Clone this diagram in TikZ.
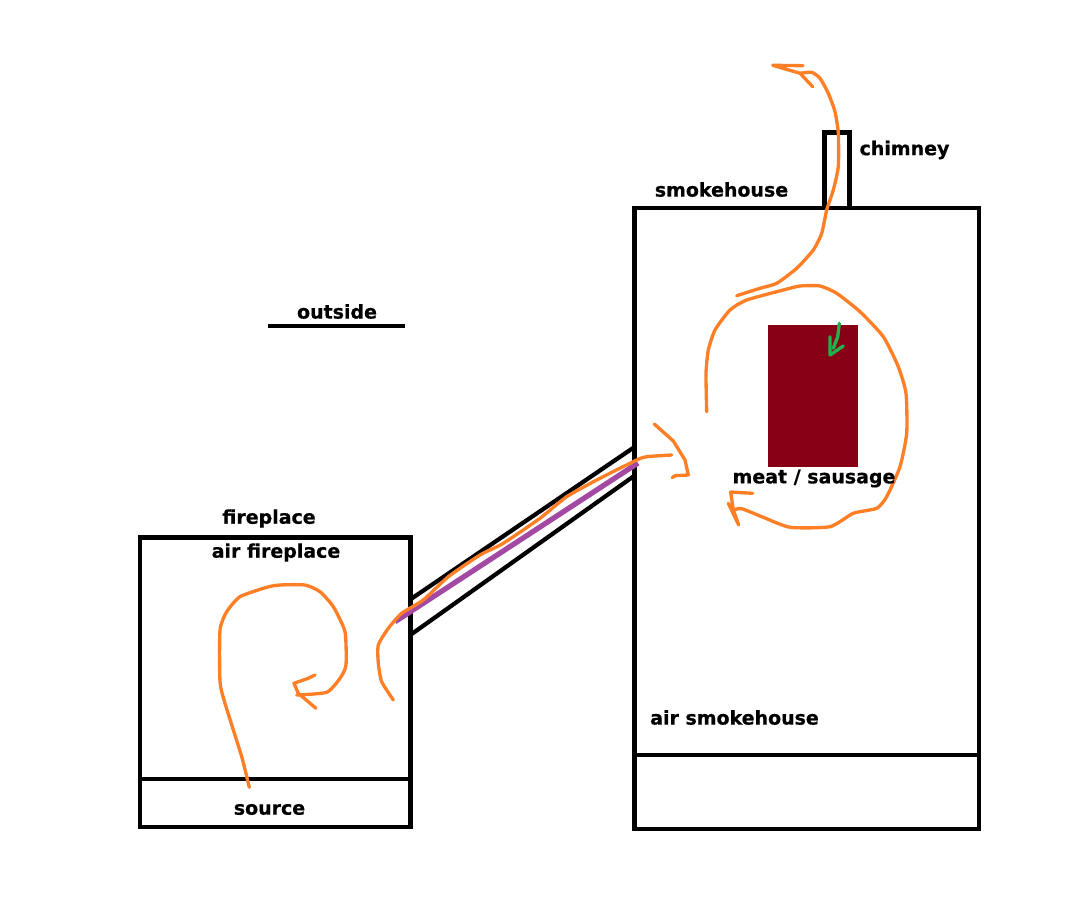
\documentclass[tikz,border=0pt]{standalone}
\usepackage{fontspec}
\setmainfont[BoldFeatures={FakeBold=0.6}]{DejaVu Sans}

\definecolor{flowc}{HTML}{FF7F27}
\definecolor{meatc}{HTML}{880015}
\definecolor{greenc}{HTML}{22B14C}
\definecolor{ductc}{HTML}{A349A4}

\begin{document}
\begin{tikzpicture}[x=0.02cm,y=0.02cm]
\tikzstyle{every node}+=[inner sep=0pt,font=\fontsize{10.8}{12}\selectfont\bfseries]
\tikzstyle{wall}=[black,line width=2.8pt]
\tikzstyle{flow}=[flowc,line width=1.9pt,line cap=round,line join=round]
\useasboundingbox (0,0) rectangle (1071,-918);

\draw [wall] (634.7,-208) rectangle (979,-829);
\draw [wall] (634.7,-755) -- (979,-755);
\draw [wall] (824.7,-208) -- (824.7,-132.7) -- (849.3,-132.7) -- (849.3,-208);
\draw [wall] (140,-537.7) rectangle (410.7,-827);
\draw [wall] (140,-779) -- (410.7,-779);
\draw [black,line width=2.3pt] (268,-326) -- (405,-326);

\coordinate (ductA) at (411.7,-598.5);
\coordinate (ductB) at (633,-448);
\coordinate (ductC) at (411.7,-634);
\coordinate (ductD) at (633,-476.7);
\coordinate (ductE) at (395,-621.7);
\coordinate (ductF) at (638,-463);
\draw [black,line width=2.4pt] (ductA) -- (ductB);
\draw [black,line width=2.4pt] (ductC) -- (ductD);
\draw [ductc,line width=3pt] (ductE) -- (ductF);

\fill [meatc] (768,-324.7) rectangle (858,-466.7);

% fireplace
\draw [flow] plot [smooth,tension=0.35] coordinates {(249.3,-787.3) (241.7,-756.7) (225,-703.3) (220,-681.7) (220,-630) (226.7,-611.7) (240,-596.7) (266.7,-587.3) (280,-585) (305,-585) (320,-591.7) (333.3,-606.7) (345,-631.7) (346,-665) (340,-678.3) (326.7,-692.3) (296.7,-695)};
\draw [flow] (315,-675) -- (308.3,-678.3) -- (294,-683.3) -- (298.3,-693.3) -- (316,-708.3);

% duct
\draw [flow] plot [smooth,tension=0.35] coordinates {(393.3,-700) (381.7,-681.7) (378.3,-663.3) (378.3,-645) (388.3,-628.3) (401.7,-613.3) (423.3,-600) (448.3,-576.7) (480,-555) (503.3,-543.3) (540,-518.3) (566.7,-496.7) (596.7,-480) (636.7,-460) (646.7,-456.7) (671.7,-455)};
\draw [flow] (654.3,-424) -- (673.3,-441) -- (685,-460) -- (688.3,-475) -- (675,-475.7) -- (672.3,-477.7);

% smokehouse
\draw [flow] plot [smooth,tension=0.35] coordinates {(706.7,-411.7) (706,-373.3) (708.3,-350) (715,-330) (730,-310) (746.7,-300) (783.3,-290) (800,-286) (820,-286) (836.7,-293.3) (860,-311.7) (883.3,-336.7) (898.3,-366.7) (906,-393.3) (906.7,-433.3) (900,-466.7) (886.7,-496.7) (876.7,-508.3) (853.3,-513.3) (830,-526.7) (790,-527.3) (763.3,-517.3) (741.7,-508.7) (733.3,-510)};
\draw [flow] (752.7,-493.3) -- (730.7,-492) -- (733.3,-510) -- (738.7,-525) -- (728.3,-503.3);

% chimney
\draw [flow] plot [smooth,tension=0.35] coordinates {(736.7,-295.7) (760,-288.3) (776.7,-283.3) (796.7,-268.3) (813.3,-250) (821.7,-233.3) (826.7,-210) (833.3,-190) (838.3,-166.7) (838.3,-133.3) (835,-111.7) (828.3,-93.3) (820,-78.3) (811.7,-72.3) (800,-73.3)};
\draw [flow] (803,-65.7) -- (772.7,-65.3) -- (800,-73.3) -- (812.7,-86.7);

\draw [greenc,line width=1.9pt,line cap=round,line join=round] (839.3,-323.3) -- (837.7,-336.7) -- (833.3,-348.3);
\draw [greenc,line width=1.9pt,line cap=round,line join=round] (830,-336.7) -- (830,-355) -- (843.3,-346);

\node (chimney) at (904.5,-150) {chimney};
\node (smokehouse) at (721.5,-189.5) {smokehouse};
\node (outside) at (337,-311.5) {outside};
\node (fireplace) at (269,-518.5) {fireplace};
\node (airfire) at (276,-552.5) {air fireplace};
\node (source) at (269.5,-809.5) {source};
\node (meat) at (814,-478.5) {meat / sausage};
\node (airsmoke) at (734.5,-717.5) {air smokehouse};
\end{tikzpicture}
\end{document}
